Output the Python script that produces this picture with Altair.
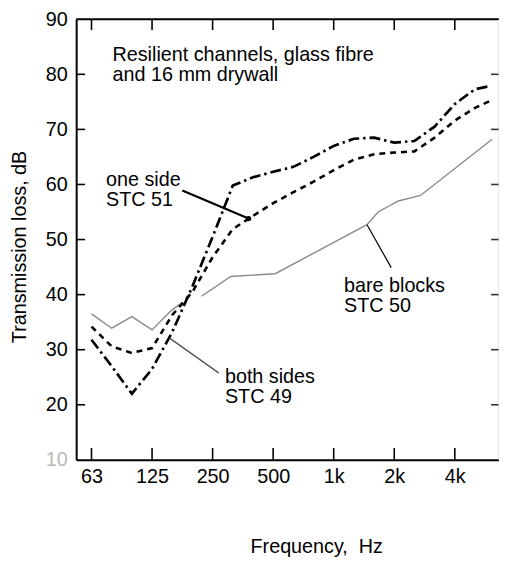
import altair as alt
import pandas as pd

# x = one-third-octave band index counted from 63 Hz (0 = 63 Hz, 3 = 125 Hz, ... 18 = 4 kHz)
band_ticks = [0, 3, 6, 9, 12, 15, 18]
band_labels = ["63", "125", "250", "500", "1k", "2k", "4k"]
db_labels = [10, 20, 30, 40, 50, 60, 70, 80, 90]
db_inner_ticks = [20, 30, 40, 50, 60, 70, 80]

# both sides, STC 49 (dash-dot)
both_x = [0, 1, 2, 3, 4, 5, 6, 7, 8, 9, 10, 11, 12, 13, 14, 15, 16, 17, 18, 19, 19.8]
both_y = [31.8, 27.0, 22.0, 26.5, 33.2, 41.5, 50.5, 59.8, 61.3, 62.3, 63.2, 65.0, 67.0, 68.3,
          68.5, 67.6, 67.9, 70.5, 74.6, 77.3, 77.9]

# one side, STC 51 (dashed)
one_x = [0, 1, 2, 3, 4, 5, 6, 7, 8, 9, 10, 11, 12, 13, 14, 15, 16, 17, 18, 19, 19.7]
one_y = [34.2, 30.6, 29.4, 30.3, 36.3, 40.5, 46.8, 51.9, 54.3, 56.6, 58.6, 60.5, 62.6, 64.5,
         65.5, 65.8, 66.0, 68.5, 71.6, 73.9, 75.1]

# bare blocks, STC 50 (thin grey, two visible pieces)
bare_x1 = [0, 1, 2, 3, 3.95, 4.5]
bare_y1 = [36.5, 33.9, 36.0, 33.6, 37.1, 38.6]
bare_x2 = [5.45, 6.9, 9.1, 13.65, 14.2, 15.2, 16.3, 19.85]
bare_y2 = [39.7, 43.3, 43.8, 52.7, 55.0, 57.0, 58.0, 68.2]

# leader lines: (x, y) -> (x2, y2)
lead_one = [4.5, 58.9, 7.78, 53.8]
lead_both = [3.87, 32.1, 6.3, 25.8]
lead_bare = [13.65, 52.7, 14.85, 44.9]

note_text = ["Resilient channels, glass fibre", "and 16 mm drywall",
             "one side", "STC 51", "bare blocks", "STC 50", "both sides", "STC 49"]
note_x = [1.04, 1.04, 0.72, 0.72, 12.51, 12.51, 6.61, 6.61]
note_y = [82.4, 78.8, 59.7, 56.1, 40.5, 36.9, 23.9, 20.3]

W, H = 428, 446
FONT = "Liberation Sans"
xs = alt.Scale(domain=[-0.76, 20.19], nice=False, zero=False)
ys = alt.Scale(domain=[10, 90], nice=False, zero=False)

label_expr = "[" + ",".join("'%s'" % l for l in band_labels) + "][round(datum.value/3)]"

bare_df = pd.DataFrame({
    "x": bare_x1 + bare_x2,
    "y": bare_y1 + bare_y2,
    "seg": ["a"] * len(bare_x1) + ["b"] * len(bare_x2),
})
one_df = pd.DataFrame({"x": one_x, "y": one_y})
both_df = pd.DataFrame({"x": both_x, "y": both_y})

x_axis = alt.Axis(
    values=band_ticks, labelExpr=label_expr, ticks=False, grid=False,
    domainColor="black", domainWidth=2, labelFont=FONT, labelFontSize=20,
    labelColor="black", labelPadding=7, labelFlush=False,
    titleFont=FONT, titleFontSize=20,
    titleFontWeight="normal", titleColor="black", titlePadding=51,
    titleX=243, titleAlign="center",
)
y_axis = alt.Axis(
    values=db_labels, ticks=False, grid=False, domainColor="black", domainWidth=2,
    labelFont=FONT, labelFontSize=20, labelPadding=9,
    labelColor={"expr": "datum.value == 10 ? '#b8b8b8' : 'black'"},
    titleFont=FONT, titleFontSize=20,
    titleFontWeight="normal", titleColor="black", titlePadding=16,
    titleY=230, titleAlign="center",
)

X = lambda: alt.X("x:Q", scale=xs, title="Frequency,\u00a0 Hz", axis=x_axis)
Y = lambda: alt.Y("y:Q", scale=ys, title="Transmission loss, dB", axis=y_axis)

bare = alt.Chart(bare_df).mark_line(color="#8a8a8a", strokeWidth=1.4).encode(
    x=X(), y=Y(), detail="seg:N")
one = alt.Chart(one_df).mark_line(color="black", strokeWidth=2.6, strokeDash=[6, 5],
                                  strokeCap="butt").encode(x=X(), y=Y())
both = alt.Chart(both_df).mark_line(color="black", strokeWidth=2.7, strokeDash=[11, 4, 2.5, 4],
                                    strokeCap="butt").encode(x=X(), y=Y())


def leader(vals, color, width):
    df = pd.DataFrame({"x": [vals[0]], "y": [vals[1]], "x2": [vals[2]], "y2": [vals[3]]})
    return alt.Chart(df).mark_rule(color=color, strokeWidth=width).encode(
        x=X(), y=Y(), x2="x2:Q", y2="y2:Q")


dot = alt.Chart(pd.DataFrame({"x": [lead_one[2]], "y": [lead_one[3]]})).mark_circle(
    color="black", size=30, opacity=1).encode(x=X(), y=Y())

notes = alt.Chart(pd.DataFrame({"t": note_text, "x": note_x, "y": note_y})).mark_text(
    align="left", baseline="alphabetic", font=FONT, fontSize=20, color="black").encode(
    x=X(), y=Y(), text="t:N")

ydf = pd.DataFrame({"y": db_inner_ticks})
xdf = pd.DataFrame({"x": band_ticks})
tick_l = alt.Chart(ydf).mark_rule(color="black", strokeWidth=1.6).encode(
    y=Y(), x=alt.value(0), x2=alt.value(9))
tick_r = alt.Chart(ydf).mark_rule(color="#333333", strokeWidth=1.6).encode(
    y=Y(), x=alt.value(W - 8), x2=alt.value(W))
tick_b = alt.Chart(xdf).mark_rule(color="black", strokeWidth=1.6).encode(
    x=X(), y=alt.value(H - 12), y2=alt.value(H))
tick_t = alt.Chart(xdf).mark_rule(color="black", strokeWidth=1.6).encode(
    x=X(), y=alt.value(0), y2=alt.value(11))

frame_df = pd.DataFrame({"k": [0]})
frame_top = alt.Chart(frame_df).mark_rule(color="black", strokeWidth=2).encode(
    x=alt.value(0), x2=alt.value(W), y=alt.value(0))
frame_right = alt.Chart(frame_df).mark_rule(color="#d0d0d0", strokeWidth=1).encode(
    x=alt.value(W), y=alt.value(0), y2=alt.value(H))

chart = alt.layer(
    bare, one, both,
    leader(lead_one, "black", 2.2), leader(lead_both, "#555555", 1.4), leader(lead_bare, "black", 1.2),
    dot, notes, tick_l, tick_r, tick_b, tick_t, frame_top, frame_right,
).properties(
    width=W, height=H,
    autosize=alt.AutoSizeParams(type="none"),
    padding={"left": 69, "top": 8, "right": 0, "bottom": 99},
).configure_view(stroke=None)

chart.save("out.html", embed_options={"renderer": "svg", "actions": False})
